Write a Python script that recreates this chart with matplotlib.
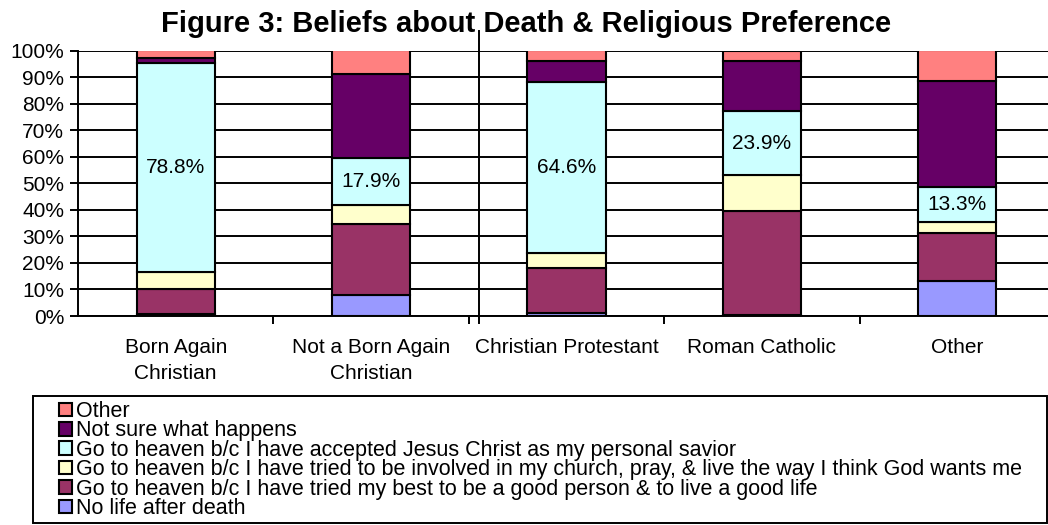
import matplotlib.pyplot as plt
import numpy as np
from matplotlib.lines import Line2D
from matplotlib.patches import Rectangle

plt.rcParams['font.family'] = ['Liberation Sans', 'DejaVu Sans']

# Data (percent of each group)
categories = ['Born Again\nChristian', 'Not a Born Again\nChristian', 'Christian Protestant',
              'Roman Catholic', 'Other']
series = ['No life after death',
          'Go to heaven b/c I have tried my best to be a good person & to live a good life',
          'Go to heaven b/c I have tried to be involved in my church, pray, & live the way I think God wants me',
          'Go to heaven b/c I have accepted Jesus Christ as my personal savior',
          'Not sure what happens',
          'Other']
no_life = [0.8, 8.0, 1.2, 0.4, 13.2]
good_person = [9.4, 26.8, 17.0, 39.0, 18.1]
church = [6.2, 6.9, 5.4, 13.8, 4.0]
jesus = [78.8, 17.9, 64.6, 23.9, 13.3]
not_sure = [1.8, 31.7, 7.7, 18.9, 39.9]
other = [3.0, 8.7, 4.1, 4.0, 11.5]
colors = ['#9999FF', '#993366', '#FFFFCC', '#CCFFFF', '#660066', '#FF8080']

values = [no_life, good_person, church, jesus, not_sure, other]

W, H = 1048, 525
fig = plt.figure(figsize=(10.48, 5.25), dpi=100)
ax = fig.add_axes([78 / W, 209 / H, 977 / W, 265.5 / H])

x = np.arange(len(categories))
bottom = np.zeros(len(categories))
bars = []
for vals, col, name in zip(values, colors, series):
    b = ax.bar(x, vals, width=0.4, bottom=bottom, color=col, edgecolor='black',
               linewidth=1.5, label=name, zorder=3)
    bars.append(b)
    bottom += np.array(vals)

# labels on the "Jesus Christ" segment
ax.bar_label(bars[3], labels=[f'{v:.1f}%' for v in jesus], label_type='center',
             fontsize=15, zorder=4)

ax.set_xlim(-0.5, len(categories) - 0.5)
ax.set_ylim(0, 100)
ax.set_yticks(range(0, 101, 10))
ax.set_yticklabels([f'{t}%' for t in range(0, 101, 10)], fontsize=15)
ax.yaxis.grid(True, color='black', linewidth=1.4, zorder=0)
ax.set_axisbelow(True)

ax.set_xticks(x)
ax.set_xticklabels(categories, fontsize=15, linespacing=1.45)
ax.set_xticks(np.arange(0.5, len(categories) - 0.5, 1), minor=True)
ax.tick_params(axis='x', which='major', length=0, pad=16)
ax.tick_params(axis='x', which='minor', length=6, width=1.4, direction='out')
ax.tick_params(axis='y', length=6, width=1.4, direction='out', pad=4)

for s in ['top', 'right']:
    ax.spines[s].set_visible(False)
for s in ['left', 'bottom']:
    ax.spines[s].set_linewidth(1.4)

fig.text(526 / W, 1 - 24 / H, 'Figure 3: Beliefs about Death & Religious Preference',
         ha='center', va='center', fontsize=21, fontweight='bold')

# stray vertical line seen in the original
fig.add_artist(Line2D([479 / W, 479 / W], [1 - 31 / H, 1 - 323 / H],
                      color='black', linewidth=1.4))

# legend box
fig.add_artist(Rectangle((33 / W, 2 / H), 1014 / W, 127 / H, fill=False,
                         edgecolor='black', linewidth=1.4))

handles = bars[::-1]
labels = series[::-1]
leg = fig.legend(handles, labels, loc='upper left',
                 bbox_to_anchor=(59 / W, 1 - 401 / H),
                 fontsize=15.5, frameon=False, labelspacing=-0.075,
                 handlelength=0.6, handleheight=0.6,
                 handletextpad=0.2, borderpad=0, borderaxespad=0)

fig.savefig('out.png', dpi=100)
